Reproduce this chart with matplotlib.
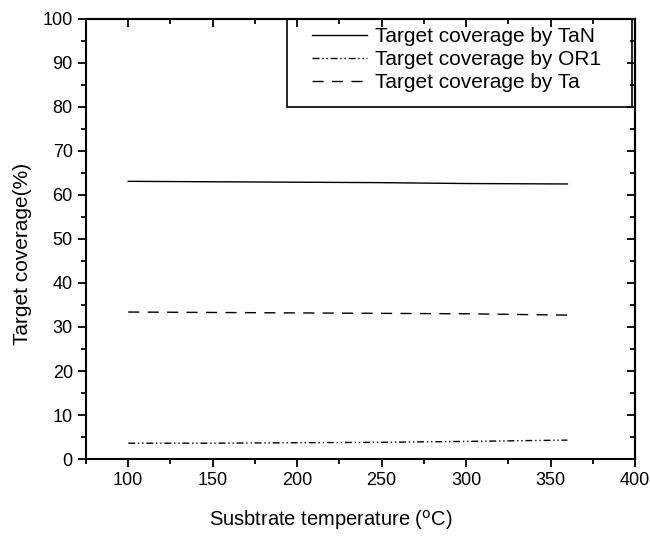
import matplotlib
matplotlib.use('Agg')
import matplotlib.pyplot as plt
import numpy as np
from matplotlib.ticker import MultipleLocator
from matplotlib.patches import Rectangle

plt.rcParams['font.family'] = ['Liberation Sans', 'DejaVu Sans']

# substrate temperature (C)
temps = [100, 150, 200, 250, 300, 360]
# target coverage (%)
cov_tan = [63.1, 63.0, 62.9, 62.8, 62.6, 62.5]
cov_or1 = [3.6, 3.6, 3.7, 3.8, 4.0, 4.3]
cov_ta = [33.4, 33.3, 33.2, 33.1, 33.0, 32.7]

fig = plt.figure(figsize=(6.5, 5.38), dpi=100)
ax = fig.add_axes([0.1323, 0.1468, 0.8446, 0.818])

ax.plot(temps, cov_tan, color='black', lw=1.0, ls='-', label='Target coverage by TaN')
ax.plot(temps, cov_or1, color='black', lw=1.0, ls=(0, (5, 2, 1, 2, 1, 2)), label='Target coverage by OR1')
ax.plot(temps, cov_ta, color='black', lw=1.0, ls=(0, (8, 6)), label='Target coverage by Ta')

ax.set_xlim(75, 400)
ax.set_ylim(0, 100)
ax.set_xticks([100, 150, 200, 250, 300, 350, 400])
ax.xaxis.set_minor_locator(MultipleLocator(25))
ax.yaxis.set_major_locator(MultipleLocator(10))
ax.yaxis.set_minor_locator(MultipleLocator(5))

for s in ax.spines.values():
    s.set_linewidth(1.5)

ax.tick_params(which='both', direction='out', top=False, right=False, width=1.3, labelsize=13)
ax.tick_params(which='major', length=6)
ax.tick_params(which='minor', length=3.5)

# mirrored ticks pointing inward on top/right
sec_x = ax.secondary_xaxis('top')
sec_x.set_xticks([100, 150, 200, 250, 300, 350, 400])
sec_x.xaxis.set_minor_locator(MultipleLocator(25))
sec_x.tick_params(which='both', direction='in', labeltop=False, width=1.3)
sec_x.tick_params(which='major', length=6)
sec_x.tick_params(which='minor', length=3.5)
sec_x.spines['top'].set_linewidth(1.5)
sec_y = ax.secondary_yaxis('right')
sec_y.yaxis.set_major_locator(MultipleLocator(10))
sec_y.yaxis.set_minor_locator(MultipleLocator(5))
sec_y.tick_params(which='both', direction='in', labelright=False, width=1.3)
sec_y.tick_params(which='major', length=6)
sec_y.tick_params(which='minor', length=3.5)
sec_y.spines['right'].set_linewidth(1.5)

ax.set_xlabel('Susbtrate temperature ($^{\\rm o}$C)', fontsize=14.5, va='center')
ax.xaxis.set_label_coords(0.446, -0.139)
ax.set_ylabel('Target coverage(%)', fontsize=15, va='center', ha='center')
ax.yaxis.set_label_coords(-0.115, 0.466)

# legend box drawn separately (wider side padding than top/bottom)
ax.add_patch(Rectangle((0.366, 0.80), 0.6285, 0.20, transform=ax.transAxes,
                       fill=False, edgecolor='black', lw=1.2, clip_on=False, zorder=5))
leg = ax.legend(loc='upper left', bbox_to_anchor=(0.412, 0.982), fontsize=15, frameon=False,
                borderaxespad=0, borderpad=0, handlelength=2.64,
                handletextpad=0.38, labelspacing=0.2)

fig.savefig('out.png', dpi=100)
